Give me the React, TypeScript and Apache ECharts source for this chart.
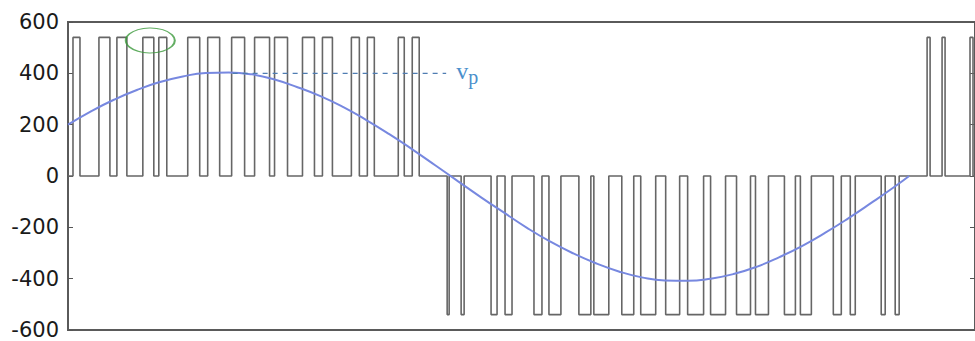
import React, { useEffect, useRef } from "react";
import * as echarts from "echarts";

// y-axis ticks
const yMin = -600;
const yMax = 600;
const yStep = 200;
// time axis (arbitrary sample units)
const tMax = 909;

// PWM pulse level and pulse edges [start, end]
const pulseLevel = 540;
const posPulses: number[][] = [
  [5, 12], [31, 42], [49, 59], [75, 86], [91, 99], [120, 132], [140, 152],
  [164, 177], [187, 202], [207, 220], [235, 247], [255, 265], [284, 292],
  [300, 307], [331, 337], [345, 352], [861, 864], [876, 879], [904, 907],
];
const negPulses: number[][] = [
  [380, 382], [394, 397], [424, 430], [438, 445], [467, 475], [482, 494],
  [512, 524], [527, 542], [555, 567], [574, 589], [599, 613], [621, 637],
  [644, 659], [670, 684], [689, 702], [718, 729], [734, 745], [767, 775],
  [784, 789], [815, 819], [829, 833],
];

// reference (sine) voltage
const refT = [
  0, 23, 46, 69, 92, 115, 138, 161, 184, 207, 230, 253, 276, 299, 322, 345,
  368, 391, 414, 437, 460, 483, 506, 529, 552, 575, 598, 621, 644, 667, 690,
  713, 736, 759, 782, 805, 828, 843,
];
const refV = [
  200, 252, 297, 335, 366, 388, 401, 403, 396, 376, 346, 311, 268, 218, 163,
  104, 42, -21, -83, -143, -202, -255, -301, -340, -372, -395, -407, -408,
  -400, -382, -354, -316, -272, -221, -165, -105, -43, 0,
];

// peak-value dashed line and its label
const vpLine: number[][] = [
  [165, 400],
  [379, 400],
];
const vpLabel = "v";
const vpSub = "p";

// green highlight ellipse around one pulse
const markerCenter: number[] = [82.5, 528];

export default function App() {
  const ref = useRef<HTMLDivElement>(null);

  useEffect(() => {
    if (!ref.current) return;
    const chart = echarts.init(ref.current, undefined, { renderer: "svg" });

    const pulses = [
      ...posPulses.map((p) => ({ s: p[0], e: p[1], v: pulseLevel })),
      ...negPulses.map((p) => ({ s: p[0], e: p[1], v: -pulseLevel })),
    ].sort((a, b) => a.s - b.s);
    const wave: number[][] = [[0, 0]];
    pulses.forEach((p) => {
      wave.push([p.s, 0], [p.s, p.v], [p.e, p.v], [p.e, 0]);
    });
    wave.push([tMax, 0]);

    const sine = refT.map((t, i) => [t, refV[i]]);

    const yCommon = {
      type: "value" as const,
      min: yMin,
      max: yMax,
      interval: yStep,
      splitLine: { show: false },
      axisLine: { show: false },
      axisTick: {
        show: true,
        inside: true,
        length: 5,
        lineStyle: { color: "#555", width: 1 },
      },
    };

    chart.setOption({
      animation: false,
      backgroundColor: "#ffffff",
      grid: {
        left: 68,
        top: 22,
        width: 909,
        height: 308,
        show: true,
        borderColor: "#5a5a5a",
        borderWidth: 2,
        backgroundColor: "transparent",
      },
      xAxis: {
        type: "value",
        min: 0,
        max: tMax,
        axisLine: { show: false },
        axisTick: { show: false },
        axisLabel: { show: false },
        splitLine: { show: false },
      },
      yAxis: [
        {
          ...yCommon,
          position: "left",
          axisLabel: {
            show: true,
            fontSize: 21,
            fontFamily: "DejaVu Sans",
            color: "#1a1a1a",
            margin: 9,
          },
        },
        {
          ...yCommon,
          position: "right",
          axisLabel: { show: false },
        },
      ],
      series: [
        {
          type: "line",
          data: wave,
          showSymbol: false,
          symbol: "none",
          silent: true,
          lineStyle: { color: "#666666", width: 1.6 },
          z: 2,
        },
        {
          type: "line",
          data: sine,
          smooth: true,
          symbol: "none",
          silent: true,
          lineStyle: { color: "#7788e0", width: 2 },
          z: 3,
        },
        {
          type: "line",
          data: vpLine,
          symbol: "none",
          silent: true,
          lineStyle: { color: "#4f7db2", width: 1.4, type: [5, 5] },
          z: 4,
          endLabel: {
            show: true,
            distance: 10,
            formatter: "{v|" + vpLabel + "}{p|" + vpSub + "}",
            rich: {
              v: {
                fontSize: 24,
                fontFamily: "Liberation Serif",
                color: "#4a8fcc",
                verticalAlign: "top",
              },
              p: {
                fontSize: 20,
                fontFamily: "Liberation Serif",
                color: "#4a8fcc",
                padding: [8, 0, 0, 0],
                verticalAlign: "top",
              },
            },
          },
        },
        {
          type: "scatter",
          data: [markerCenter],
          symbol: "circle",
          symbolSize: [49, 25],
          silent: true,
          itemStyle: {
            color: "rgba(0,0,0,0)",
            borderColor: "#3c9a3c",
            borderWidth: 1.5,
          },
          z: 5,
        },
      ],
    });

    return () => chart.dispose();
  }, []);

  return (
    <div
      ref={ref}
      style={{ position: "fixed", left: 0, top: 0, width: 975, height: 341 }}
    />
  );
}
